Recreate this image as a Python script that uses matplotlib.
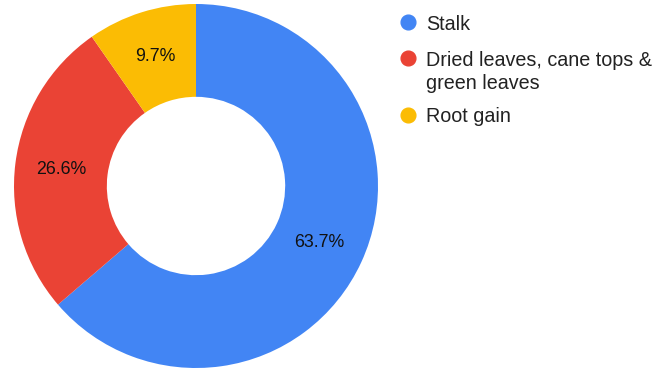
import matplotlib.pyplot as plt

plt.rcParams['font.family'] = ['Liberation Sans', 'DejaVu Sans']

# data
labels = ['Stalk', 'Dried leaves, cane tops &\ngreen leaves', 'Root gain']
shares = [63.7, 26.6, 9.7]
colors = ['#4285F4', '#EA4335', '#FBBC04']

W, H = 663, 372
fig = plt.figure(figsize=(W / 100, H / 100), dpi=100)

# pie axes: centre (196, 186) px, radius 182 px
cx, cy, r = 196, 186, 182
ax = fig.add_axes([(cx - r) / W, (H - cy - r) / H, 2 * r / W, 2 * r / H])

wedges, texts, autotexts = ax.pie(
    shares, colors=colors, startangle=90, counterclock=False,
    autopct='%1.1f%%', pctdistance=0.745,
    wedgeprops=dict(width=0.51, edgecolor='white', linewidth=0),
    textprops=dict(fontsize=12.8, color='#111111'))
ax.set_aspect('equal')
ax.set_xlim(-1, 1)
ax.set_ylim(-1, 1)
ax.axis('off')

# legend drawn by hand: dot + label, first-line centres in pixels
rows_y = [22, 58, 115]
for lab, c, y in zip(labels, colors, rows_y):
    fig.lines.append(plt.Line2D([408 / W], [1 - y / H], transform=fig.transFigure,
                                marker='o', markersize=10.6, linestyle='',
                                markerfacecolor=c, markeredgecolor=c))
    fig.text(426 / W, 1 - (y - 7.5) / H, lab, fontsize=14.2, color='#222222',
             va='top', ha='left', linespacing=1.27)

fig.savefig('out.png', dpi=100)
